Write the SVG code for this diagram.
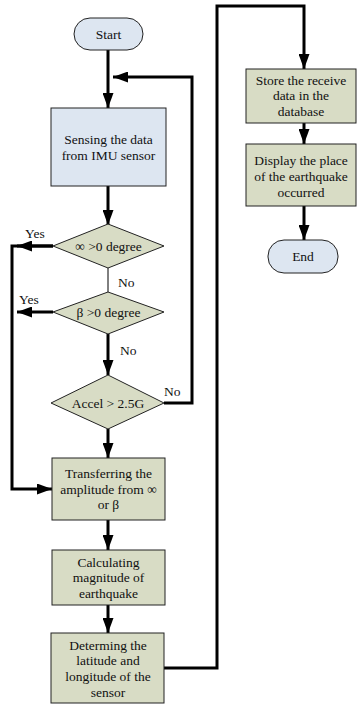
<svg xmlns="http://www.w3.org/2000/svg" width="357" height="704" viewBox="0 0 357 704" font-family="'Liberation Serif', 'Times New Roman', 'DejaVu Serif', serif">
<style>
  .blue{fill:#dde6f1;stroke:#222;stroke-width:1}
  .green{fill:#d8dcc5;stroke:#222;stroke-width:1}
  text{font-family:'Liberation Serif','Times New Roman','DejaVu Serif',serif;font-size:13.5px;fill:#111;text-anchor:middle}
  .lbl{text-anchor:start}
  .thick{fill:none;stroke:#000;stroke-width:3}
  .thin{fill:none;stroke:#000;stroke-width:1}
</style>
<defs>
  <marker id="ah" markerUnits="userSpaceOnUse" markerWidth="15" markerHeight="11" refX="15" refY="5.5" orient="auto">
    <path d="M0,0 L15,5.5 L0,11 z" fill="#000"/>
  </marker>
</defs>
<rect width="357" height="704" fill="#fff"/>
<g id="connectors">
  <path class="thick" d="M108,50 V108" marker-end="url(#ah)"/>
  <path class="thick" d="M164,403 H192 V77 H113" marker-end="url(#ah)"/>
  <path class="thick" d="M108,186 V225" marker-end="url(#ah)"/>
  <path class="thick" d="M53,246 H17" marker-end="url(#ah)"/>
  <path class="thick" d="M53,246 H12 V489 H52" marker-end="url(#ah)"/>
  <path class="thin" d="M108,268 V292"/>
  <path class="thick" d="M53,312 H17" marker-end="url(#ah)"/>
  <path class="thick" d="M108,334 V375" marker-end="url(#ah)"/>
  <path class="thick" d="M108,429 V458" marker-end="url(#ah)"/>
  <path class="thick" d="M108,520 V550" marker-end="url(#ah)"/>
  <path class="thick" d="M108,605 V633" marker-end="url(#ah)"/>
  <path class="thick" d="M164,668 H217 V6 H304 V69" marker-end="url(#ah)"/>
  <path class="thick" d="M304,123 V144" marker-end="url(#ah)"/>
  <path class="thick" d="M304,206 V240" marker-end="url(#ah)"/>
  <text class="lbl" x="25" y="238">Yes</text>
  <text class="lbl" x="118" y="287">No</text>
  <text class="lbl" x="19" y="304">Yes</text>
  <text class="lbl" x="120" y="355">No</text>
  <text class="lbl" x="164" y="396">No</text>
</g>
<g id="start">
  <rect class="blue" x="74" y="18" width="69" height="32" rx="16"/>
  <text x="108.5" y="38.5">Start</text>
</g>
<g id="sensing">
  <rect class="blue" x="51" y="108" width="115" height="78"/>
  <text x="108.5" y="144">Sensing the data</text>
  <text x="108.5" y="160">from IMU sensor</text>
</g>
<g id="d1">
  <polygon class="green" points="108,224 164,246 108,268 53,246"/>
  <text x="108.5" y="250.5">∞  &gt;0 degree</text>
</g>
<g id="d2">
  <polygon class="green" points="108,292 164,312 108,334 53,312"/>
  <text x="108.5" y="316.5">β &gt;0 degree</text>
</g>
<g id="d3">
  <polygon class="green" points="108,375 164,403 108,429 51,403"/>
  <text x="108" y="407.5">Accel &gt; 2.5G</text>
</g>
<g id="transfer">
  <rect class="green" x="52" y="458" width="113" height="62"/>
  <text x="108.5" y="478">Transferring the</text>
  <text x="108.5" y="494">amplitude from ∞</text>
  <text x="108.5" y="509">or β</text>
</g>
<g id="calc">
  <rect class="green" x="52" y="550" width="113" height="55"/>
  <text x="108.5" y="567">Calculating</text>
  <text x="108.5" y="582">magnitude of</text>
  <text x="108.5" y="598">earthquake</text>
</g>
<g id="determ">
  <rect class="green" x="51" y="633" width="113" height="70"/>
  <text x="108" y="650">Determing the</text>
  <text x="108" y="665">latitude and</text>
  <text x="108" y="681">longitude of the</text>
  <text x="108" y="697">sensor</text>
</g>
<g id="store">
  <rect class="green" x="246" y="69" width="110" height="54"/>
  <text x="301" y="85">Store the receive</text>
  <text x="301" y="100">data in the</text>
  <text x="301" y="116">database</text>
</g>
<g id="display">
  <rect class="green" x="246" y="144" width="110" height="62"/>
  <text x="301" y="165">Display the place</text>
  <text x="301" y="181">of the earthquake</text>
  <text x="301" y="197">occurred</text>
</g>
<g id="end">
  <rect class="blue" x="268" y="240" width="70" height="33" rx="16"/>
  <text x="303" y="261">End</text>
</g>
</svg>
